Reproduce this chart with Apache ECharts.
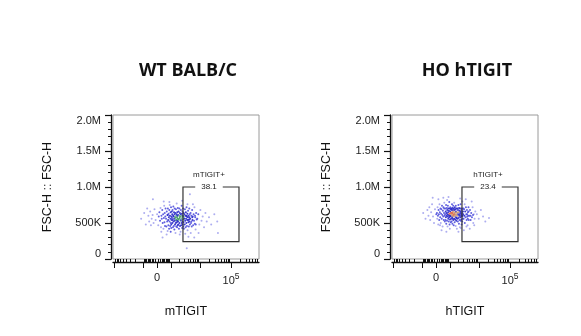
<!DOCTYPE html>
<html><head><meta charset="utf-8">
<script src="https://cdn.jsdelivr.net/npm/echarts@6/dist/echarts.min.js"></script>
<style>html,body{margin:0;padding:0;background:#fff}#c{width:581px;height:336px}</style>
</head><body><div id="c"></div>
<script>
// ---------- data ----------
const panelTitles = ['WT BALB/C', 'HO hTIGIT'];
const xAxisNames = ['mTIGIT', 'hTIGIT'];
const yAxisName = 'FSC-H :: FSC-H';
const gateNames = ['mTIGIT+', 'hTIGIT+'];
const gatePercents = ['38.1', '23.4'];
const gateX = [2770, 181000];     // fluorescence
const gateY = [240, 1000];        // FSC-H, thousands
const yTicks = [0, 500, 1000, 1500, 2000];
const yTickLabels = ['0', '500K', '1.0M', '1.5M', '2.0M'];
const xRange = [-10700, 800000];
const xMajorTicks = [-10000, -1000, 0, 1000, 10000, 100000];
const xLabelTicks = [0, 100000];
const xTickLabels = ['0', '{n|10}{s|5}'];
const xMinorTicks = [-9000,-8000,-7000,-6000,-5000,-4000,-3000,-2000,
  -900,-800,-700,-600,-500,-400,-300,-200,-100,
  100,200,300,400,500,600,700,800,900,
  2000,3000,4000,5000,6000,7000,8000,9000,
  20000,30000,40000,50000,60000,70000,80000,90000,
  200000,300000,400000,500000,600000,700000];

// [fluorescence, FSC-H (K)]
const wtPoints = [
[-1200,560],[-900,640],[-760,480],[-650,700],
[-560,600],[-500,520],[-430,660],[-380,470],[-330,560],[-270,610],[-210,500],[-150,690],[-80,540],[10,620],[-250,830],
[80,470],[110,590],[150,650],[190,530],[220,710],[250,440],[280,600],[300,560],[330,680],[360,500],[390,620],[410,420],[440,570],[460,740],[480,510],[500,640],[520,460],[540,590],[560,700],[270,380],[430,800],[350,300],
[600,560],[620,450],[650,660],[680,520],[700,610],[720,390],[740,700],[760,540],[780,470],[800,630],[820,580],[840,420],[860,680],[880,520],[900,750],[920,600],[940,460],[960,560],[980,650],[1000,500],[1020,720],[1040,430],[1060,590],[1080,540],[1100,660],[640,340],[870,790],[990,380],[730,610],[1050,480],
[1120,570],[1140,620],[1160,500],[1180,680],[1200,540],[1220,440],[1240,600],[1260,730],[1280,520],[1300,590],[1320,460],[1340,650],[1360,560],[1380,410],[1400,620],[1420,700],[1440,530],[1460,480],[1480,580],[1500,640],[1520,360],[1540,560],[1560,500],[1580,690],[1600,600],[1620,450],[1640,540],[1660,620],[1680,770],[1700,510],[1720,580],[1740,440],[1760,650],[1780,530],[1800,600],[1820,470],[1840,710],[1850,560],
[1880,520],[1900,610],[1930,480],[1960,660],[1990,550],[2020,420],[2050,600],[2080,700],[2110,500],[2140,570],[2170,640],[2200,460],[2230,590],[2260,530],[2290,380],[2320,620],[2350,680],[2380,540],[2410,470],[2440,600],[2470,560],[2500,740],[2530,500],[2560,630],[2590,430],[2620,580],[2650,520],[2680,660],[2710,480],[2740,600],[2770,550],[2800,700],[2830,450],[2860,590],[2890,510],[2920,640],[2950,570],[2980,420],[2150,340],[2600,810],
[3050,560],[3100,620],[3160,480],[3220,690],[3280,530],[3340,600],[3400,440],[3460,650],[3520,560],[3580,500],[3640,720],[3700,590],[3760,460],[3820,540],[3880,630],[3940,400],[4000,580],[4080,670],[4160,510],[4240,600],[4320,450],[4400,550],[4480,700],[4560,520],[4640,620],[4700,480],[3300,350],[3900,760],[4200,310],[3600,600],[4100,540],[4500,580],
[4800,560],[4950,640],[5100,500],[5250,600],[5400,450],[5550,680],[5700,540],[5850,590],[6000,470],[6200,620],[6400,530],[6600,720],[6800,490],[7000,580],[7200,410],[7500,640],[7800,550],[5000,360],[5900,760],[6500,300],[5300,520],[6900,600],[7300,480],[5600,580],
[8200,560],[8800,620],[9500,480],[10300,680],[11200,530],[12200,590],[13500,440],[15000,640],[16500,520],[9000,360],
[19500,580],[23000,480],[29000,620],[36000,520],[38000,360],[3700,150],[4700,900]
];
const hoPoints = [
[-900,640],[-700,560],
[-560,680],[-480,600],[-420,720],[-360,540],[-300,650],[-240,760],[-180,590],[-120,500],[-60,690],[20,620],[-200,850],
[60,640],[80,560],[100,720],[120,600],[140,480],[160,680],[180,620],[200,540],[220,760],[240,650],[260,580],[280,700],[300,500],[320,630],[340,690],[360,560],[380,740],[400,610],[420,450],[440,670],[460,590],[480,720],[500,540],[520,640],[540,780],[560,600],[580,520],[150,830],[350,400],[470,850],[250,470],[530,700],
[600,620],[615,700],[630,540],[645,660],[660,580],[675,750],[690,490],[705,640],[720,600],[735,710],[750,530],[765,680],[780,620],[795,450],[810,590],[825,740],[840,650],[855,560],[870,700],[885,610],[900,520],[915,670],[930,580],[945,790],[960,630],[975,480],[990,700],[1005,600],[1020,550],[1035,660],[1050,720],[1065,590],[1080,640],[1095,510],[1110,690],[700,380],[880,860],[1000,420],[760,820],[1040,600],
[1120,620],[1135,560],[1150,700],[1165,640],[1180,520],[1195,680],[1210,600],[1225,760],[1240,580],[1255,650],[1270,490],[1285,710],[1300,630],[1315,560],[1330,680],[1345,600],[1360,740],[1375,540],[1390,660],[1405,610],[1420,470],[1435,700],[1450,590],[1465,640],[1480,780],[1495,560],[1510,680],[1525,620],[1540,510],[1560,720],[1580,600],[1600,650],[1620,550],[1640,690],[1660,620],[1680,460],[1700,740],[1720,580],[1740,660],[1760,530],[1780,700],[1800,610],[1820,570],[1840,650],[1850,420],
[1880,640],[1910,560],[1940,700],[1970,600],[2000,520],[2030,680],[2060,620],[2090,750],[2120,570],[2150,650],[2180,490],[2210,710],[2240,600],[2270,540],[2300,670],[2330,620],[2360,440],[2390,700],[2420,580],[2450,640],[2480,760],[2510,530],[2540,660],[2570,600],[2600,700],[2630,550],[2660,620],[2690,480],[2720,680],[2750,590],[2790,640],[2820,520],[2860,700],[2900,600],[2940,560],[2980,660],[2100,380],[2400,840],[2550,430],[2850,800],
[3050,620],[3150,560],[3250,690],[3350,600],[3450,500],[3550,660],[3650,580],[3750,720],[3850,620],[3950,540],[4050,680],[4150,590],[4250,470],[4350,650],[4450,600],[4550,720],[4650,540],[3200,400],[3700,830],[4100,620],[3400,760],[3900,450],[4300,560],[4600,660],[3100,700],
[4850,600],[5100,680],[5350,540],[5600,640],[5900,580],[6200,720],[6500,500],[6800,620],[7200,560],[7600,660],[5000,420],[5800,800],[6400,610],[7000,470],[5300,600],
[8500,620],[9800,560],[11500,680],[13500,590],[16000,520],
[21000,570]
];

// ---------- biexponential-like axis transform ----------
const BIEX_W = 820;
function biex(v) { return Math.asinh(v / BIEX_W) / Math.LN10; }

const FONT = '"Liberation Sans", Arial, sans-serif';
const gridLefts = [113, 392];
const allPoints = [wtPoints, hoPoints];
const hotColors = [['#3c9a58', '#6aa8a0'], ['#e06a48', '#c89a7a']];

// pseudocolour by local point density (styling only)
function pointColors(points, hot) {
  const px = points.map(p => [biex(p[0]) * 31, p[1] / 13.89]);
  const dens = px.map((a, i) => {
    let n = 0;
    for (let j = 0; j < px.length; j++) {
      if (j === i) continue;
      const dx = px[j][0] - a[0], dy = px[j][1] - a[1];
      if (dx * dx + dy * dy < 30) n++;
    }
    return n;
  });
  const sorted = dens.slice().sort((a, b) => a - b);
  const q = f => sorted[Math.floor(f * (sorted.length - 1))];
  const q25 = q(0.25), q60 = q(0.6), q90 = q(0.9), q96 = q(0.96);
  return dens.map((n, i) => {
    if (n <= q25) return '#a4a4ee';
    if (n <= q60) return '#5050dc';
    if (n <= q90) return '#2828c8';
    if (n <= q96) return hot[1];
    return hot[0];
  });
}

const grids = [], xAxes = [], yAxes = [], series = [], graphics = [];
for (let i = 0; i < 2; i++) {
  grids.push({ left: gridLefts[i], top: 115, width: 146, height: 144, show: true,
    borderColor: '#9a9a9a', borderWidth: 1, backgroundColor: 'transparent' });
  // major ticks + labels
  xAxes.push({ type: 'value', gridIndex: i, position: 'bottom', offset: 3,
    min: biex(xRange[0]), max: biex(xRange[1]),
    name: xAxisNames[i], nameLocation: 'middle', nameGap: 43,
    nameTextStyle: { fontSize: 12.5, color: '#111', fontFamily: FONT },
    axisLine: { show: true, onZero: false, lineStyle: { color: '#111', width: 1.3 } },
    axisTick: { show: true, customValues: xMajorTicks.map(biex), length: 6, lineStyle: { color: '#111', width: 1 } },
    axisLabel: { show: true, customValues: xLabelTicks.map(biex), margin: 10,
      fontSize: 11, color: '#222', fontFamily: FONT,
      formatter: function (v) {
        let k = 0, best = Infinity;
        xLabelTicks.forEach((t, j) => { const d = Math.abs(biex(t) - v); if (d < best) { best = d; k = j; } });
        return xTickLabels[k];
      },
      rich: { n: { fontSize: 11, color: '#222', fontFamily: FONT },
              s: { fontSize: 8.5, color: '#222', fontFamily: FONT, padding: [0, 0, 9, 0] } } },
    splitLine: { show: false }
  });
  // minor ticks
  xAxes.push({ type: 'value', gridIndex: i, position: 'bottom', offset: 3,
    min: biex(xRange[0]), max: biex(xRange[1]),
    axisLine: { show: false },
    axisTick: { show: true, customValues: xMinorTicks.map(biex), length: 3.5, lineStyle: { color: '#111', width: 1 } },
    axisLabel: { show: false }, splitLine: { show: false }
  });
  yAxes.push({ type: 'value', gridIndex: i, position: 'left', offset: 2,
    min: yTicks[0], max: yTicks[yTicks.length - 1], interval: 500,
    name: yAxisName, nameLocation: 'middle', nameGap: 57,
    nameTextStyle: { fontSize: 12.5, color: '#111', fontFamily: FONT },
    axisLine: { show: true, onZero: false, lineStyle: { color: '#111', width: 1.3 } },
    axisTick: { show: true, length: 6, lineStyle: { color: '#111', width: 1.2 } },
    minorTick: { show: true, splitNumber: 5, length: 3, lineStyle: { color: '#111', width: 1 } },
    axisLabel: { fontSize: 11, color: '#222', fontFamily: FONT, margin: 10,
      verticalAlignMaxLabel: 'top', verticalAlignMinLabel: 'bottom',
      formatter: v => { const k = yTicks.indexOf(v); return k >= 0 ? yTickLabels[k] : ''; } },
    splitLine: { show: false }, minorSplitLine: { show: false }
  });
  const cols = pointColors(allPoints[i], hotColors[i]);
  series.push({ type: 'scatter', xAxisIndex: i * 2, yAxisIndex: i,
    symbol: 'circle', symbolSize: 2, silent: true,
    data: allPoints[i].map((p, k) => ({ value: [biex(p[0]), p[1]], itemStyle: { color: cols[k], opacity: 0.9 } }))
  });
  series.push({ type: 'custom', xAxisIndex: i * 2, yAxisIndex: i, silent: true, z: 5,
    data: [[biex(gateX[0]), gateY[0], biex(gateX[1]), gateY[1]]],
    renderItem: (function (idx) {
      return function (params, api) {
        const tl = api.coord([api.value(0), api.value(3)]);
        const br = api.coord([api.value(2), api.value(1)]);
        const cx = (tl[0] + br[0]) / 2;
        return { type: 'group', children: [
          { type: 'rect', shape: { x: tl[0], y: tl[1], width: br[0] - tl[0], height: br[1] - tl[1] },
            style: { fill: 'none', stroke: '#333', lineWidth: 1.2 } },
          { type: 'text', x: cx - 2, y: tl[1], style: { text: gatePercents[idx], align: 'center', verticalAlign: 'middle',
              backgroundColor: '#fff', padding: [1, 6], font: '8px ' + FONT, fill: '#222' } },
          { type: 'text', x: cx - 2, y: tl[1] - 12, style: { text: gateNames[idx], align: 'center', verticalAlign: 'middle',
              font: '8px ' + FONT, fill: '#222' } }
        ] };
      };
    })(i)
  });
  graphics.push({ type: 'text', x: gridLefts[i] + 75, y: 71,
    style: { text: panelTitles[i], align: 'center', verticalAlign: 'middle',
      font: 'bold 18px "Open Sans", sans-serif', fill: '#111' } });
}

const chart = echarts.init(document.getElementById('c'), null, { renderer: 'canvas' });
chart.setOption({
  backgroundColor: '#fff', animation: false,
  grid: grids, xAxis: xAxes, yAxis: yAxes, series: series, graphic: graphics
});
</script></body></html>
